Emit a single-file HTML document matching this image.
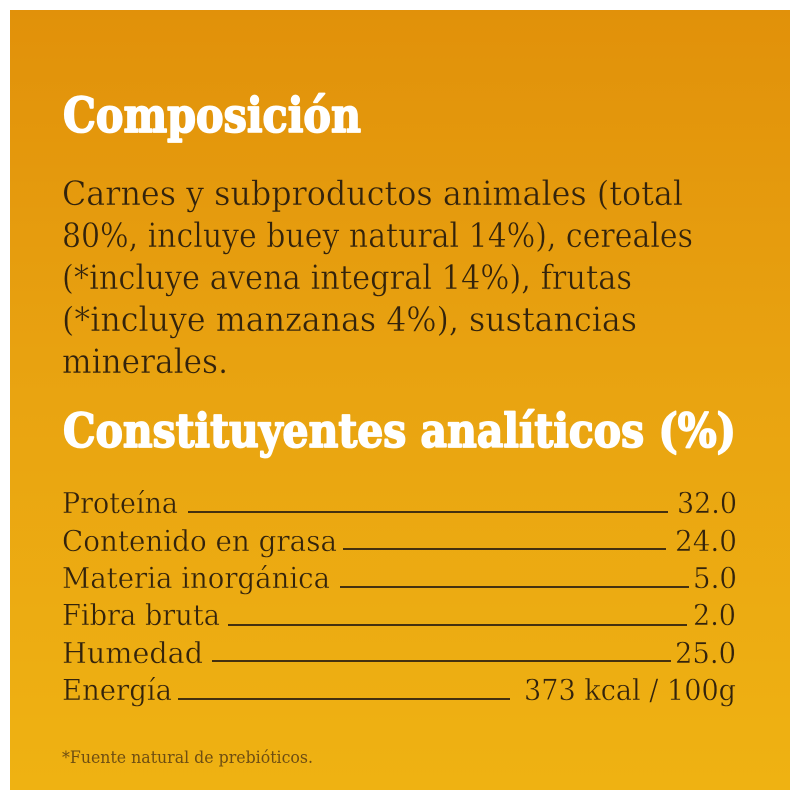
<!DOCTYPE html>
<html>
<head>
<meta charset="utf-8">
<style>
  html, body { margin:0; padding:0; background:#ffffff; }
  svg { display:block; }
</style>
</head>
<body>
<svg width="800" height="800" viewBox="0 0 800 800" xmlns="http://www.w3.org/2000/svg">
  <defs>
    <linearGradient id="bg" x1="0" y1="10" x2="0" y2="790" gradientUnits="userSpaceOnUse">
      <stop offset="0" stop-color="#E1910A"/>
      <stop offset="0.5" stop-color="#E9A411"/>
      <stop offset="1" stop-color="#EFB212"/>
    </linearGradient>
  </defs>
  <rect x="0" y="0" width="800" height="800" fill="#ffffff"/>
  <rect x="10" y="10" width="780" height="780" fill="url(#bg)"/>

  <!-- Headings -->
  <g font-family="'DejaVu Serif', 'Liberation Serif', serif" font-weight="bold" fill="#ffffff" stroke="#ffffff" stroke-width="1.8" stroke-linejoin="round">
    <text x="63" y="132" font-size="48" textLength="298" lengthAdjust="spacingAndGlyphs">Composición</text>
    <text x="63" y="447" font-size="47" textLength="673" lengthAdjust="spacingAndGlyphs">Constituyentes analíticos (%)</text>
  </g>

  <!-- Composition paragraph -->
  <g font-family="'DejaVu Serif', 'Liberation Serif', serif" fill="#33230c" stroke="url(#bg)" stroke-width="0.5" font-size="34">
    <text x="62" y="205" textLength="621" lengthAdjust="spacingAndGlyphs">Carnes y subproductos animales (total</text>
    <text x="62" y="247" textLength="631" lengthAdjust="spacingAndGlyphs">80%, incluye buey natural 14%), cereales</text>
    <text x="62" y="289" textLength="570" lengthAdjust="spacingAndGlyphs">(*incluye avena integral 14%), frutas</text>
    <text x="62" y="331" textLength="575" lengthAdjust="spacingAndGlyphs">(*incluye manzanas 4%), sustancias</text>
    <text x="62" y="373" textLength="166" lengthAdjust="spacingAndGlyphs">minerales.</text>
  </g>

  <!-- Table labels -->
  <g font-family="'DejaVu Serif', 'Liberation Serif', serif" fill="#33230c" stroke="url(#bg)" stroke-width="0.45" font-size="29">
    <text x="62" y="513" textLength="116" lengthAdjust="spacingAndGlyphs">Proteína</text>
    <text x="62" y="551" textLength="275" lengthAdjust="spacingAndGlyphs">Contenido en grasa</text>
    <text x="62" y="588" textLength="268" lengthAdjust="spacingAndGlyphs">Materia inorgánica</text>
    <text x="62" y="625" textLength="158" lengthAdjust="spacingAndGlyphs">Fibra bruta</text>
    <text x="62" y="663" textLength="141" lengthAdjust="spacingAndGlyphs">Humedad</text>
    <text x="62" y="700" textLength="110" lengthAdjust="spacingAndGlyphs">Energía</text>

    <text x="677" y="513" textLength="60" lengthAdjust="spacingAndGlyphs">32.0</text>
    <text x="675" y="551" textLength="62" lengthAdjust="spacingAndGlyphs">24.0</text>
    <text x="693" y="588" textLength="44" lengthAdjust="spacingAndGlyphs">5.0</text>
    <text x="693" y="625" textLength="43" lengthAdjust="spacingAndGlyphs">2.0</text>
    <text x="675" y="663" textLength="61" lengthAdjust="spacingAndGlyphs">25.0</text>
    <text x="524" y="700" textLength="212" lengthAdjust="spacingAndGlyphs">373 kcal / 100g</text>
  </g>

  <!-- Leader lines -->
  <g stroke="#44300f" stroke-width="2">
    <line x1="188" y1="512" x2="668" y2="512"/>
    <line x1="343" y1="549" x2="666" y2="549"/>
    <line x1="340" y1="587" x2="689" y2="587"/>
    <line x1="228" y1="625" x2="687" y2="625"/>
    <line x1="212" y1="661" x2="671" y2="661"/>
    <line x1="178" y1="699" x2="510" y2="699"/>
  </g>

  <!-- Footnote -->
  <text x="62" y="763" font-family="'DejaVu Serif', 'Liberation Serif', serif" font-size="17" fill="#6e4e12" textLength="251" lengthAdjust="spacingAndGlyphs">*Fuente natural de prebióticos.</text>
</svg>
</body>
</html>
